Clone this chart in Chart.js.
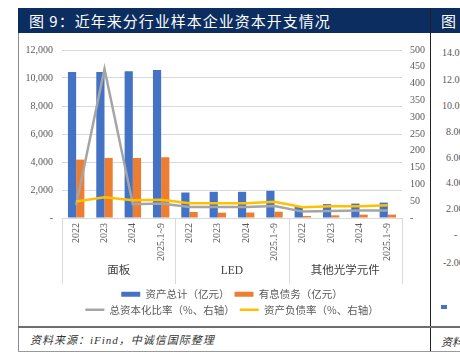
<!DOCTYPE html>
<html><head><meta charset="utf-8">
<script src="https://cdn.jsdelivr.net/npm/chart.js@4/dist/chart.umd.min.js"></script>
<style>
html,body{margin:0;padding:0;background:#fff;width:460px;height:361px;overflow:hidden;}
.abs{position:absolute;white-space:nowrap;}
#title{left:18px;top:8px;width:412px;height:25px;background:#0b2d5f;color:#fff;font:15px "Noto Sans CJK SC";line-height:25px;padding-left:11px;box-sizing:border-box;letter-spacing:1px;}
#title2{left:431px;top:8px;width:29px;height:25px;background:#0b2d5f;color:#fff;font:15px "Noto Sans CJK SC";line-height:25px;padding-left:10px;box-sizing:border-box;}
#vline{left:430px;top:8px;width:1px;height:344px;background:#222;}
#lline{left:18px;top:33px;width:1px;height:319px;background:#8c8c8c;}
#h1{left:18px;top:326px;width:442px;height:1.5px;background:#6e6e6e;}
#h2{left:18px;top:351px;width:442px;height:1px;background:#9a9a9a;}
#src{left:30px;top:331px;font:italic 11px "Liberation Serif","Noto Sans CJK SC";color:#333;letter-spacing:1px;}
#src2{left:441px;top:333px;font:italic 11px "Noto Sans CJK SC";color:#333;}
.rt{position:absolute;left:442px;font:10px "Liberation Serif";color:#595959;white-space:nowrap;}
#chartbox{position:absolute;left:19px;top:35px;width:410px;height:290px;}
</style></head>
<body>
<div id="title" class="abs">图 9：近年来分行业样本企业资本开支情况</div>
<div id="title2" class="abs">图</div>
<div id="vline" class="abs"></div>
<div id="lline" class="abs"></div>
<div id="h1" class="abs"></div>
<div id="h2" class="abs"></div>
<div id="src" class="abs">资料来源：iFind，中诚信国际整理</div>
<div id="src2" class="abs">资料来源</div>
<div class="rt" style="top:47px">14.00</div>
<div class="rt" style="top:74px">12.00</div>
<div class="rt" style="top:100px">10.00</div>
<div class="rt" style="top:126px;left:446px">8.00</div>
<div class="rt" style="top:152px;left:446px">6.00</div>
<div class="rt" style="top:177px;left:446px">4.00</div>
<div class="rt" style="top:203px;left:446px">2.00</div>
<div class="rt" style="top:229px;left:454px">-</div>
<div class="rt" style="top:257px;left:443px">-2.00</div>
<div class="abs" style="left:441px;top:305px;width:6px;height:4px;background:#4472c4"></div>
<div id="chartbox"><canvas id="c" width="410" height="290"></canvas></div>
<script>
const years = ["2022","2023","2024","2025.1~9"];
const groups = ["面板","LED","其他光学元件"];
const categories = ["2022","2023","2024","2025.1~9","2022","2023","2024","2025.1~9","2022","2023","2024","2025.1~9"];
const totalAssets = [10430, 10430, 10480, 10580, 1820, 1870, 1870, 1940, 790, 990, 1030, 1100];
const interestDebt = [4170, 4290, 4290, 4340, 430, 380, 390, 450, 140, 190, 240, 240];
const capRatio = [38, 444, 41, 43, 33, 33, 33, 36, 19, 21, 22, 22];
const debtRatio = [49, 62, 53, 54, 44, 44, 44, 48, 32, 35, 35, 38];
const leftTicks = [0, 2000, 4000, 6000, 8000, 10000, 12000];
const rightTicks = [0, 50, 100, 150, 200, 250, 300, 350, 400, 450, 500];

const serif = "'Liberation Serif', 'Times New Roman', 'Noto Sans CJK SC'";
const fmt = v => v === 0 ? "-" : v.toLocaleString("en-US");

const groupPlugin = {
  id: "groups",
  afterDraw(chart) {
    const x = chart.scales.x, ctx = chart.ctx;
    const top = chart.chartArea.bottom;
    const half = (x.getPixelForValue(1) - x.getPixelForValue(0)) / 2;
    ctx.save();
    ctx.strokeStyle = "#d9d9d9";
    ctx.lineWidth = 1;
    const n = years.length;
    for (let g = 0; g <= groups.length; g++) {
      const px = Math.round(g < groups.length ? x.getPixelForValue(g * n) - half : x.getPixelForValue(g * n - 1) + half) + 0.5;
      ctx.beginPath(); ctx.moveTo(px, top); ctx.lineTo(px, top + 66); ctx.stroke();
    }
    ctx.fillStyle = "#404040";
    ctx.font = "11.5px " + serif;
    ctx.textAlign = "center"; ctx.textBaseline = "middle";
    groups.forEach((gname, g) => {
      const cx = (x.getPixelForValue(g * n) + x.getPixelForValue(g * n + n - 1)) / 2;
      ctx.fillText(gname, cx, top + 53);
    });
    ctx.restore();
  }
};

new Chart(document.getElementById("c"), {
  data: {
    labels: categories,
    datasets: [
      { type: "bar", label: "资产总计（亿元）", data: totalAssets, backgroundColor: "#4472c4", yAxisID: "y", order: 2, pointStyle: "rect", categoryPercentage: 0.58, barPercentage: 1 },
      { type: "bar", label: "有息债务（亿元）", data: interestDebt, backgroundColor: "#ed7d31", yAxisID: "y", order: 3, pointStyle: "rect", categoryPercentage: 0.58, barPercentage: 1 },
      { type: "line", label: "总资本化比率（%、右轴）", data: capRatio, borderColor: "#a5a5a5", backgroundColor: "#a5a5a5", borderWidth: 2.5, pointRadius: 0, pointStyle: "line", tension: 0, yAxisID: "y1", order: 1 },
      { type: "line", label: "资产负债率（%、右轴）", data: debtRatio, borderColor: "#ffc000", backgroundColor: "#ffc000", borderWidth: 2.5, pointRadius: 0, pointStyle: "line", tension: 0, yAxisID: "y1", order: 0 }
    ]
  },
  options: {
    responsive: false,
    animation: false,
    events: [],
    layout: { padding: { top: 15, left: 0, right: 0, bottom: 0 } },
    scales: {
      x: {
        grid: { display: false, drawTicks: false },
        border: { display: true, color: "#d9d9d9" },
        ticks: { maxRotation: 90, minRotation: 90, autoSkip: false, padding: 5, color: "#595959", font: { family: serif, size: 10 } },
        afterFit(s) { s.height = 66; }
      },
      y: {
        position: "left", min: 0, max: 12000,
        afterBuildTicks(s) { s.ticks = leftTicks.map(v => ({ value: v })); },
        grid: { color: "#d9d9d9", drawTicks: false },
        border: { display: false },
        ticks: { callback: fmt, color: "#595959", padding: 9, font: { family: serif, size: 10 } },
        afterFit(s) { s.width = 43; }
      },
      y1: {
        position: "right", min: 0, max: 500,
        afterBuildTicks(s) { s.ticks = rightTicks.map(v => ({ value: v })); },
        grid: { display: false, drawTicks: false },
        border: { display: false },
        ticks: { callback: fmt, color: "#595959", padding: 8, font: { family: serif, size: 10 } },
        afterFit(s) { s.width = 27; }
      }
    },
    plugins: {
      tooltip: { enabled: false },
      legend: {
        position: "bottom",
        fullSize: false,
        labels: {
          usePointStyle: true, pointStyleWidth: 19, boxHeight: 5, padding: 5,
          color: "#595959", font: { family: "'Noto Sans CJK SC'", size: 10.5 },
          sort: (a, b) => a.datasetIndex - b.datasetIndex
        }
      }
    }
  },
  plugins: [groupPlugin]
});
</script>
</body></html>
